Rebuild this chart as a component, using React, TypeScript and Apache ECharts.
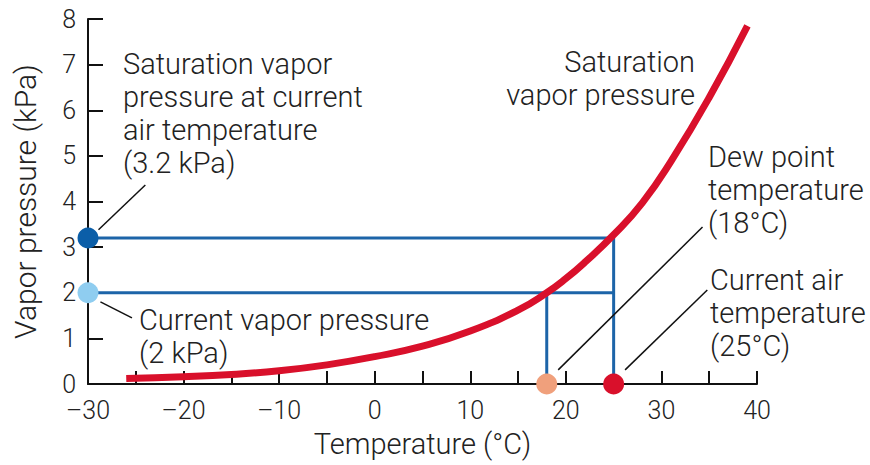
import React, { useEffect, useRef } from "react";
import * as echarts from "echarts";

// Saturation vapor pressure curve (°C, kPa)
const curveTemps = [-26, -20, -15, -10, -5, 0, 5, 10, 15, 18, 20, 22, 25, 28, 31, 35, 39];
const curvePress = [0.12, 0.16, 0.21, 0.29, 0.42, 0.6, 0.83, 1.16, 1.62, 2.0, 2.31, 2.67, 3.27, 3.97, 4.88, 6.28, 7.85];

// Reference values
const airTemp = 25;
const dewTemp = 18;
const satPressure = 3.2;
const curPressure = 2;
const xMin = -30;
const xMax = 40;
const yMin = 0;
const yMax = 8;

// leader lines [x, y] pairs
const leaderSat = [[-28.9, 3.38], [-24.0, 4.36]];
const leaderCur = [[-28.7, 1.8], [-25.4, 1.45]];
const leaderDew = [[19.2, 0.31], [34.3, 3.44]];
const leaderAir = [[26.2, 0.31], [34.8, 2.06]];

const FONT = "Roboto";
const TXT = "#222";

export default function App() {
  const ref = useRef<HTMLDivElement>(null);
  useEffect(() => {
    const chart = echarts.init(ref.current!, null, { renderer: "svg" });
    const blue = "#1c64a8";
    const lineStyleBlue = { color: blue, width: 3 };
    const leaderStyle = { color: "#111", width: 1.5 };
    const plain = (data: number[][], ls: any, z = 2) => ({
      type: "line",
      data,
      symbol: "none",
      lineStyle: ls,
      clip: false,
      z,
      silent: true,
    });
    const fmt = (v: number) => (v % 10 === 0 ? (v < 0 ? "\u2013" + Math.abs(v) : String(v)) : "");
    const textStyle = { fontFamily: FONT, fontSize: 29, fontWeight: 300, fill: TXT, lineHeight: 33 };
    chart.setOption({
      animation: false,
      backgroundColor: "#fff",
      grid: { left: 88, right: 113, top: 19, bottom: 81 },
      xAxis: {
        type: "value",
        min: xMin,
        max: xMax,
        interval: 5,
        name: "Temperature (°C)",
        nameLocation: "middle",
        nameGap: 45,
        nameTextStyle: { fontFamily: FONT, fontSize: 29, fontWeight: 300, color: TXT },
        axisLine: { show: true, onZero: false, lineStyle: { color: "#111", width: 2 } },
        axisTick: { show: true, inside: true, length: 13, lineStyle: { color: "#111", width: 2 } },
        axisLabel: { formatter: fmt, fontFamily: FONT, fontSize: 25, fontWeight: 300, color: TXT, margin: 14 },
        splitLine: { show: false },
      },
      yAxis: {
        type: "value",
        min: yMin,
        max: yMax,
        interval: 1,
        name: "Vapor pressure (kPa)",
        nameLocation: "middle",
        nameGap: 48,
        nameTextStyle: { fontFamily: FONT, fontSize: 30, fontWeight: 300, color: TXT },
        axisLine: { show: true, onZero: false, lineStyle: { color: "#111", width: 2 } },
        axisTick: { show: true, inside: true, length: 15, lineStyle: { color: "#111", width: 2 } },
        axisLabel: { fontFamily: FONT, fontSize: 25, fontWeight: 300, color: TXT, margin: 12 },
        splitLine: { show: false },
      },
      series: [
        plain([[xMin, satPressure], [airTemp, satPressure], [airTemp, 0]], lineStyleBlue, 3),
        plain([[xMin, curPressure], [airTemp, curPressure]], lineStyleBlue, 3),
        plain([[dewTemp, curPressure], [dewTemp, 0]], lineStyleBlue, 3),
        {
          type: "line",
          data: curveTemps.map((t, i) => [t, curvePress[i]]),
          smooth: true,
          symbol: "none",
          lineStyle: { color: "#d9102b", width: 7, cap: "butt" },
          z: 4,
          silent: true,
        },
        plain(leaderSat, leaderStyle, 5),
        plain(leaderCur, leaderStyle, 5),
        plain(leaderDew, leaderStyle, 5),
        plain(leaderAir, leaderStyle, 5),
        {
          type: "scatter",
          symbolSize: 21,
          clip: false,
          z: 10,
          silent: true,
          itemStyle: { opacity: 1 },
          data: [
            { value: [xMin, satPressure], itemStyle: { color: "#0b5ea8", opacity: 1 } },
            { value: [xMin, curPressure], itemStyle: { color: "#8fcdf0", opacity: 1 } },
            { value: [dewTemp, 0], itemStyle: { color: "#f0a07c", opacity: 1 } },
            { value: [airTemp, 0], itemStyle: { color: "#d9102b", opacity: 1 } },
          ],
        },
      ],
      graphic: [
        { type: "text", x: 123, y: 47, style: { ...textStyle, text: "Saturation vapor\npressure at current\nair temperature\n(3.2 kPa)" } },
        { type: "text", x: 695, y: 45, style: { ...textStyle, align: "right", text: "Saturation\nvapor pressure" } },
        { type: "text", x: 708, y: 140, style: { ...textStyle, text: "Dew point\ntemperature\n(18°C)" } },
        { type: "text", x: 710, y: 263, style: { ...textStyle, text: "Current air\ntemperature\n(25°C)" } },
        { type: "text", x: 139, y: 303, style: { ...textStyle, text: "Current vapor pressure\n(2 kPa)" } },
      ],
    });
    return () => chart.dispose();
  }, []);
  return <div ref={ref} style={{ width: 870, height: 465, position: "absolute", left: 0, top: 0 }} />;
}
